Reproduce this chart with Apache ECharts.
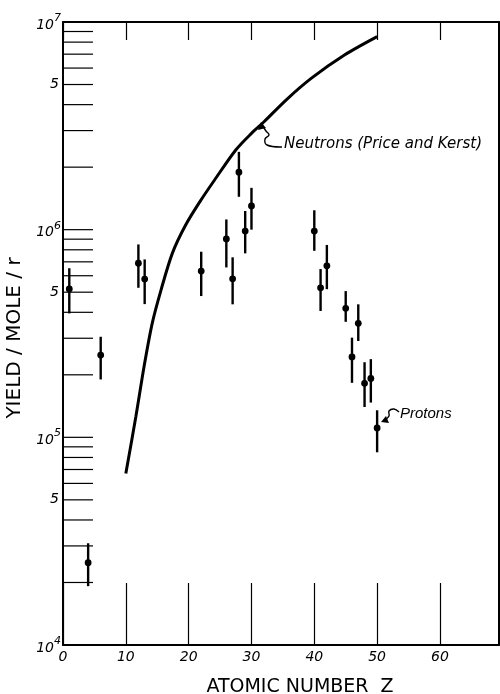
<!DOCTYPE html>
<html><head><meta charset="utf-8">
<script src="https://cdn.jsdelivr.net/npm/echarts@6/dist/echarts.min.js"></script>
<style>html,body{margin:0;padding:0;background:#fff}#c{width:500px;height:694px}</style>
</head><body><div id="c"></div>
<script>
// ---- data ----
const neutronZ = [10, 11.6, 12.9, 14.2, 15.6, 17.4, 19.5, 21.9, 24.1, 27.5, 30, 32, 35.5, 39.5, 44.8, 50];
const neutronYield = [6.7e4, 1.26e5, 2.19e5, 3.54e5, 5.12e5, 7.69e5, 1.05e6, 1.38e6, 1.73e6, 2.42e6, 2.91e6, 3.31e6, 4.21e6, 5.35e6, 6.93e6, 8.5e6];

const protonZ = [1, 4, 6, 12, 13, 22, 26, 27, 28, 29, 30, 40, 41, 42, 45, 46, 47, 48, 49, 50];
const protonYield = [5.18e5, 2.49e4, 2.49e5, 6.89e5, 5.78e5, 6.32e5, 9.02e5, 5.80e5, 1.89e6, 9.85e5, 1.30e6, 9.85e5, 5.25e5, 6.70e5, 4.18e5, 2.44e5, 3.54e5, 1.82e5, 1.92e5, 1.11e5];
const protonLow = [3.95e5, 1.92e4, 1.90e5, 5.25e5, 4.38e5, 4.79e5, 6.58e5, 4.37e5, 1.44e6, 7.69e5, 1.00e6, 7.91e5, 4.06e5, 5.17e5, 3.60e5, 1.83e5, 2.91e5, 1.40e5, 1.47e5, 8.47e4];
const protonHigh = [6.52e5, 3.09e4, 3.05e5, 8.49e5, 7.19e5, 7.83e5, 1.12e6, 7.36e5, 2.37e6, 1.23e6, 1.59e6, 1.24e6, 6.46e5, 8.44e5, 5.06e5, 3.02e5, 4.37e5, 2.30e5, 2.38e5, 1.35e5];

const yMinorTicks = [2e4, 3e4, 4e4, 5e4, 6e4, 7e4, 8e4, 9e4, 1e5,
                     2e5, 3e5, 4e5, 5e5, 6e5, 7e5, 8e5, 9e5, 1e6,
                     2e6, 3e6, 4e6, 5e6, 6e6, 7e6, 8e6, 9e6];
const yHalfLabelValues = [5e4, 5e5, 5e6];
const yHalfLabelText = ['5', '5', '5'];

const X_MIN = 0, X_MAX = 69.4, X_INTERVAL = 10;
const Y_MIN = 1e4, Y_MAX = 1e7;

// ---- chart ----
const chart = echarts.init(document.getElementById('c'), null, {renderer: 'canvas'});
const FONT = 'DejaVu Sans';

const neutronData = neutronZ.map((z, i) => [z, neutronYield[i]]);
const protonData = protonZ.map((z, i) => [z, protonYield[i], protonLow[i], protonHigh[i]]);
const tickData = yMinorTicks.map(v => [X_MIN, v]);
const halfLabelData = yHalfLabelValues.map((v, i) => [X_MIN, v, yHalfLabelText[i]]);

chart.setOption({
  animation: false,
  backgroundColor: '#fff',
  grid: {left: 63, right: 1, top: 22, bottom: 49, containLabel: false, outerBoundsMode: 'none'},
  xAxis: [{
    type: 'value', min: X_MIN, max: X_MAX, interval: X_INTERVAL, position: 'bottom',
    axisLine: {show: true, onZero: false, lineStyle: {color: '#000', width: 2}},
    axisTick: {show: true, inside: true, length: 62, lineStyle: {color: '#000', width: 1.2}},
    axisLabel: {color: '#000', fontSize: 14, fontStyle: 'italic', fontFamily: FONT, margin: 5,
      showMaxLabel: false, formatter: v => (v % 10 === 0 ? String(v) : '')},
    splitLine: {show: false},
    name: 'ATOMIC NUMBER  Z', nameLocation: 'middle', nameGap: 33,
    nameTextStyle: {color: '#000', fontSize: 19, fontFamily: FONT, padding: [0, 0, 0, 38]}
  }, {
    type: 'value', min: X_MIN, max: X_MAX, interval: X_INTERVAL, position: 'top',
    axisLine: {show: true, onZero: false, lineStyle: {color: '#000', width: 2}},
    axisTick: {show: true, inside: true, length: 18, lineStyle: {color: '#000', width: 1.2}},
    axisLabel: {show: false}, splitLine: {show: false}
  }],
  yAxis: [{
    type: 'log', logBase: 10, min: Y_MIN, max: Y_MAX, position: 'left',
    axisLine: {show: true, onZero: false, lineStyle: {color: '#000', width: 2}},
    axisTick: {show: false}, minorTick: {show: false}, splitLine: {show: false},
    axisLabel: {
      margin: 2, color: '#000', fontFamily: FONT, fontStyle: 'italic',
      showMinLabel: true, showMaxLabel: true,
      formatter: v => {
        const e = Math.round(Math.log10(v));
        return '{b|10}{s|' + e + '}';
      },
      rich: {
        b: {fontSize: 14, fontStyle: 'italic', fontFamily: FONT, color: '#000', padding: [6, 0, 0, 0]},
        s: {fontSize: 11, fontStyle: 'italic', fontFamily: FONT, color: '#000', padding: [0, 0, 8, 0]}
      }
    },
    name: 'YIELD / MOLE / r', nameLocation: 'middle', nameRotate: 90, nameGap: 32,
    nameTextStyle: {color: '#000', fontSize: 20, fontFamily: FONT, padding: [0, 9, 0, 0]}
  }, {
    type: 'log', logBase: 10, min: Y_MIN, max: Y_MAX, position: 'right',
    axisLine: {show: true, onZero: false, lineStyle: {color: '#000', width: 2}},
    axisTick: {show: false}, axisLabel: {show: false}, splitLine: {show: false}
  }],
  series: [
    {
      name: 'Neutrons (Price and Kerst)', type: 'line', data: neutronData,
      smooth: 0.3, showSymbol: false, symbol: 'none',
      lineStyle: {color: '#000', width: 3}, z: 3
    },
    {
      name: 'Protons', type: 'custom', data: protonData, z: 4,
      renderItem: (params, api) => {
        const c = api.coord([api.value(0), api.value(1)]);
        const lo = api.coord([api.value(0), api.value(2)]);
        const hi = api.coord([api.value(0), api.value(3)]);
        return {type: 'group', children: [
          {type: 'line', shape: {x1: lo[0], y1: lo[1], x2: hi[0], y2: hi[1]},
           style: {stroke: '#000', lineWidth: 2.4}},
          {type: 'circle', shape: {cx: c[0], cy: c[1], r: 3.4}, style: {fill: '#000'}}
        ]};
      }
    },
    {
      name: 'yticks', type: 'custom', data: tickData, z: 2, silent: true,
      renderItem: (params, api) => {
        const p = api.coord([api.value(0), api.value(1)]);
        return {type: 'line', shape: {x1: p[0], y1: p[1], x2: p[0] + 30, y2: p[1]},
                style: {stroke: '#000', lineWidth: 1.2}};
      }
    },
    {
      name: 'yhalf', type: 'custom', data: halfLabelData, z: 2, silent: true,
      dimensions: ['x', 'y', 'label'],
      renderItem: (params, api) => {
        const p = api.coord([api.value(0), api.value(1)]);
        return {type: 'text', x: p[0] - 4, y: p[1],
                style: {text: halfLabelData[params.dataIndex][2], fill: '#000', fontSize: 14,
                        fontStyle: 'italic', fontFamily: FONT, align: 'right', verticalAlign: 'middle'}};
      }
    }
  ],
  graphic: [
    {type: 'text', left: 284, top: 137, style: {text: 'Neutrons (Price and Kerst)', fill: '#000',
      font: 'italic 15px "DejaVu Sans"'}},
    {type: 'polyline', shape: {points: [[262, 125], [266, 131], [269, 135], [265, 139], [267, 145], [282, 147]], smooth: 0.4},
      style: {stroke: '#000', lineWidth: 1.4, fill: null}},
    {type: 'polygon', shape: {points: [[261, 122], [258, 130], [266, 128]]}, style: {fill: '#000'}},
    {type: 'text', left: 400, top: 406, style: {text: 'Protons', fill: '#000',
      font: 'italic 15px "Liberation Sans"'}},
    {type: 'polyline', shape: {points: [[399, 412], [394, 409], [389, 411], [389, 416], [385, 420]], smooth: 0.4},
      style: {stroke: '#000', lineWidth: 1.4, fill: null}},
    {type: 'polygon', shape: {points: [[381, 422], [389, 423], [386, 416]]}, style: {fill: '#000'}}
  ]
});
</script>
</body></html>
